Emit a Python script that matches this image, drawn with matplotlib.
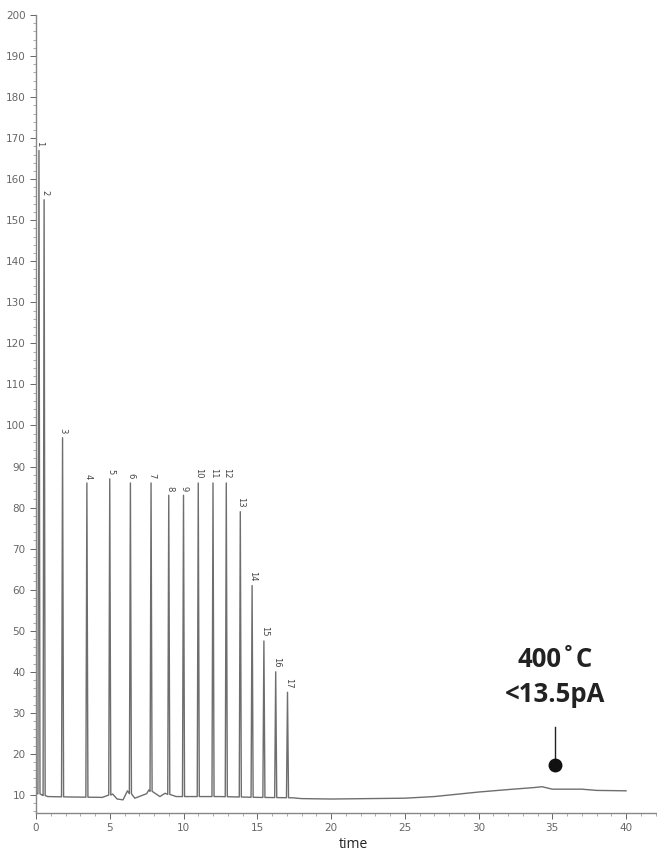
import numpy as np
import matplotlib
matplotlib.use("Agg")
import matplotlib.pyplot as plt
from matplotlib.ticker import MultipleLocator

# peak retention times (min) and apex heights (pA)
peak_labels = [str(i) for i in range(1, 18)]
peak_times = [0.2, 0.55, 1.8, 3.45, 5.0, 6.4, 7.8, 9.0, 10.0, 11.0, 12.0,
              12.9, 13.85, 14.65, 15.45, 16.25, 17.05]
peak_heights = [167, 155, 97, 86, 87, 86, 86, 83, 83, 86, 86, 86, 79,
                61, 47.5, 40, 35]

# baseline
base_times = [0.0, 0.4, 0.8, 2.3, 4.5, 5.2, 5.5, 5.9, 6.2, 6.7, 7.5, 7.65,
              8.4, 8.75, 9.5, 10.5, 12.45, 15.05, 17.4, 18.0, 20.0, 25.0,
              27.0, 30.0, 32.0, 33.8, 34.3, 35.0, 37.0, 38.0, 40.0]
base_values = [10.5, 10.0, 9.6, 9.5, 9.4, 10.2, 9.0, 8.8, 11.0, 9.2, 10.3,
               11.2, 9.6, 10.4, 9.6, 9.6, 9.6, 9.4, 9.3, 9.1, 9.0, 9.2,
               9.6, 10.7, 11.3, 11.8, 12.0, 11.4, 11.4, 11.1, 11.0]

x_ticks = [0, 5, 10, 15, 20, 25, 30, 35, 40]
y_ticks = list(range(10, 201, 10))

annot_lines = ["400˚C", "<13.5pA"]
annot_point = (35.2, 17.2)

fig = plt.figure(figsize=(6.57, 8.52), dpi=100)
ax = fig.add_axes([0.0548, 0.0458, 0.9452, 0.9366])

# assemble trace: baseline + narrow triangular peaks
pts = list(zip(base_times, base_values))
w = 0.07
for t, h in zip(peak_times, peak_heights):
    b = np.interp(t, base_times, base_values)
    pts += [(t - w, b), (t, h), (t + w, b)]
pts.sort(key=lambda p: p[0])
xs, ys = zip(*pts)
ax.plot(xs, ys, color="#6e6e6e", lw=1.0)

for lab, t, h in zip(peak_labels, peak_times, peak_heights):
    ax.text(t + 0.05, h + 1.0, lab, rotation=270, ha="center", va="bottom",
            fontsize=6, color="#444444")

ax.set_xlim(0, 42.1)
ax.set_ylim(5.6, 200)
ax.set_xticks(x_ticks)
ax.set_yticks(y_ticks)
ax.xaxis.set_minor_locator(MultipleLocator(1))
ax.yaxis.set_minor_locator(MultipleLocator(2))
ax.tick_params(axis="both", which="major", labelsize=7.5, colors="#666666",
               length=4, width=0.7)
ax.tick_params(axis="both", which="minor", colors="#888888", length=2,
               width=0.5)
for s in ["top", "right"]:
    ax.spines[s].set_visible(False)
for s in ["left", "bottom"]:
    ax.spines[s].set_color("#888888")
    ax.spines[s].set_linewidth(1.0)

fam = ["Liberation Sans Narrow", "Open Sans"]
fig.text(353 / 657, 1 - 845 / 852, "time", ha="center", va="center",
         fontsize=10, color="#222222", family=fam)

ax.text(annot_point[0], 43, annot_lines[0], ha="center", va="center",
        fontsize=18.5, fontweight="bold", family=fam, color="#222222")
ax.text(annot_point[0], 34.4, annot_lines[1], ha="center", va="center",
        fontsize=18.5, fontweight="bold", family=fam, color="#222222")
ax.plot([annot_point[0], annot_point[0]], [annot_point[1], 26.6],
        color="#222222", lw=1.0)
ax.plot([annot_point[0]], [annot_point[1]], "o", color="#111111", ms=9)

fig.savefig("out.png", dpi=100)
